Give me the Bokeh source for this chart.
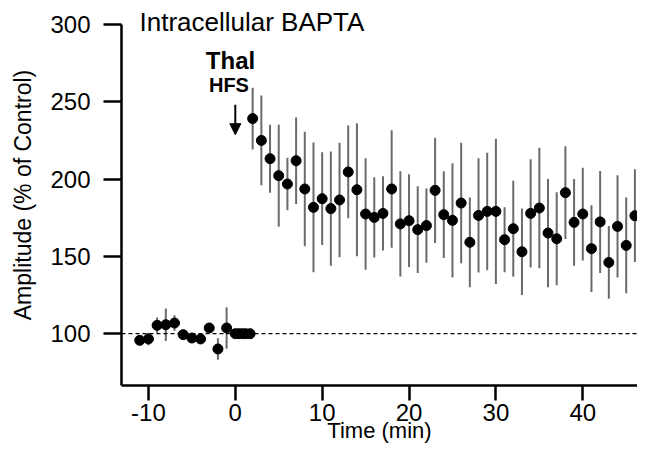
from bokeh.plotting import figure
from bokeh.models import Range1d, FixedTicker, Span, Label, Arrow, NormalHead
from bokeh.embed import file_html
from bokeh.resources import INLINE

# ---- data ----
base_time = [-11, -10, -9, -8, -7, -6, -5, -4, -3, -2, -1]
base_amp = [95.7, 96.6, 105.4, 105.8, 106.9, 99.4, 97.2, 96.6, 103.7, 90.1, 103.7]
base_err = [2, 4, 5, 10.5, 5, 2, 2, 3, 2, 7, 13.4]

hfs_time = [0.0, 0.4, 0.8, 1.2, 1.7]
hfs_amp = [100, 100, 100, 100, 100]

post_time = list(range(2, 47))
post_amp = [239.1, 225.0, 213.2, 202.2, 196.8, 211.9, 193.6, 181.7, 187.3, 180.9,
            186.5, 204.6, 193.1, 177.4, 175.2, 177.8, 193.6, 171.0, 173.1, 167.3,
            169.9, 192.7, 177.0, 173.3, 184.5, 159.1, 176.5, 179.1, 179.1, 160.8,
            167.9, 153.0, 177.8, 181.3, 165.1, 161.4, 191.2, 172.0, 177.4, 155.0,
            172.3, 146.1, 169.4, 157.1, 176.3]
post_err = [20, 29, 22, 33, 17, 28, 37, 42, 30, 37,
            37, 30, 43, 36, 26, 24, 38, 34, 30, 28,
            24, 34, 28, 37, 39, 29, 37, 38, 47, 21,
            31, 28, 35, 39, 35, 30, 30, 28, 30, 28,
            33, 23.5, 33, 31, 30]

x_ticks = [-10, 0, 10, 20, 30, 40]
x_tick_labels = {-10: "-10", 0: "0", 10: "10", 20: "20", 30: "30", 40: "40"}
y_ticks = [100, 150, 200, 250, 300]
y_axis_top = 300
control_level = 100
hfs_time_point = 0
arrow_top, arrow_tip = 248, 228.7

FONT = "Liberation Sans"

p = figure(width=637, height=446,
           x_range=Range1d(-13.1, 46.3), y_range=Range1d(66.5, 312.9),
           output_backend="svg", toolbar_location=None,
           min_border_left=121, min_border_right=0,
           min_border_top=4, min_border_bottom=61)
p.outline_line_color = None
p.xgrid.visible = False
p.ygrid.visible = False
p.background_fill_color = "white"
p.border_fill_color = "white"

p.xaxis.ticker = FixedTicker(ticks=x_ticks)
p.xaxis.major_label_overrides = x_tick_labels
p.yaxis.ticker = FixedTicker(ticks=y_ticks)
p.yaxis.bounds = (66.5, y_axis_top)
p.xaxis.axis_label = "Time (min)"
p.yaxis.axis_label = "Amplitude (% of Control)"
for ax in (p.xaxis[0], p.yaxis[0]):
    ax.axis_line_width = 2.5
    ax.axis_line_color = "black"
    ax.major_tick_line_width = 2.5
    ax.major_tick_line_color = "black"
    ax.major_tick_in = 0
    ax.minor_tick_out = 0
    ax.minor_tick_in = 0
    ax.major_label_text_font = FONT
    ax.major_label_text_font_size = "24px"
    ax.major_label_text_color = "black"
    ax.axis_label_text_font = FONT
    ax.axis_label_text_font_style = "normal"
    ax.axis_label_text_color = "black"
p.yaxis.major_tick_out = 18
p.yaxis.major_label_standoff = 13
p.yaxis.axis_label_standoff = 11
p.yaxis.axis_label_text_font_size = "23px"
p.xaxis.major_tick_out = 15
p.xaxis.major_label_standoff = 3
p.xaxis.axis_label_standoff = -6
p.xaxis.axis_label_text_font_size = "22px"

# control level dashed line
p.add_layout(Span(location=control_level, dimension="width",
                  line_color="black", line_width=1.3, line_dash="4 3"))

# error bars
p.segment(x0=base_time, x1=base_time,
          y0=[a - e for a, e in zip(base_amp, base_err)],
          y1=[a + e for a, e in zip(base_amp, base_err)],
          line_color="#6a6a6a", line_width=2)
p.segment(x0=post_time, x1=post_time,
          y0=[a - e for a, e in zip(post_amp, post_err)],
          y1=[a + e for a, e in zip(post_amp, post_err)],
          line_color="#6a6a6a", line_width=2)

# points
p.scatter(base_time, base_amp, size=10, color="black")
p.scatter(hfs_time, hfs_amp, size=10, color="black")
p.scatter(post_time, post_amp, size=10, color="black")

# annotations
p.add_layout(Label(x=-11.03, y=301.6, text="Intracellular BAPTA",
                   text_font=FONT, text_font_size="26px",
                   text_align="left", text_baseline="middle",
                   text_color="black"))
p.add_layout(Label(x=-0.55, y=276.6, text="Thal",
                   text_font=FONT, text_font_size="24px", text_font_style="bold",
                   text_align="center", text_baseline="middle",
                   text_color="black"))
p.add_layout(Label(x=-0.73, y=261.0, text="HFS",
                   text_font=FONT, text_font_size="20px", text_font_style="bold",
                   text_align="center", text_baseline="middle",
                   text_color="black"))
p.add_layout(Arrow(end=NormalHead(size=11, fill_color="black", line_color="black"),
                   x_start=hfs_time_point, y_start=arrow_top,
                   x_end=hfs_time_point, y_end=arrow_tip,
                   line_width=2, line_color="black"))

open("out.html", "w").write(file_html(p, INLINE))
